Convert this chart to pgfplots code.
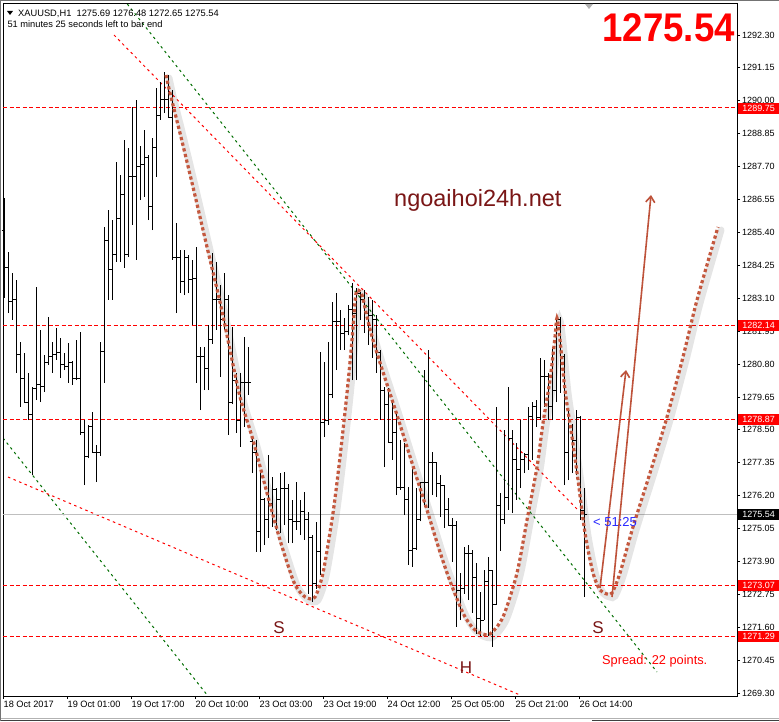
\documentclass[border=0pt]{standalone}
\usepackage{pgfplots}
\pgfplotsset{compat=1.18}
\usepackage{pgfplotstable}
\usepackage{fontspec}
\setmainfont{Liberation Sans}
\usetikzlibrary{arrows.meta}
\definecolor{dgreen}{RGB}{0,110,0}
\definecolor{curvecol}{RGB}{196,88,62}
\definecolor{arrowcol}{RGB}{190,82,58}
\definecolor{maroonT}{RGB}{122,22,22}
\definecolor{lblblue}{RGB}{40,40,255}
\definecolor{mtred}{RGB}{255,0,0}
\pgfdeclareplotmark{otick}{\pgfpathmoveto{\pgfqpoint{-2.5pt}{0pt}}\pgfpathlineto{\pgfqpoint{0pt}{0pt}}\pgfusepathqstroke}
\pgfdeclareplotmark{ctick}{\pgfpathmoveto{\pgfqpoint{0pt}{0pt}}\pgfpathlineto{\pgfqpoint{2.5pt}{0pt}}\pgfusepathqstroke}

\pgfplotstableread{
i H L O C
0 1286.60 1283.11 1285.48 1284.19
1 1284.71 1282.58 1284.19 1282.97
2 1283.98 1282.34 1282.97 1283.04
3 1283.74 1280.49 1283.04 1281.12
4 1281.57 1279.30 1281.12 1280.31
5 1281.19 1279.44 1280.31 1279.47
6 1280.49 1278.84 1279.47 1279.02
7 1280.00 1276.92 1279.02 1279.96
8 1283.49 1279.54 1279.96 1280.07
9 1281.99 1279.47 1280.07 1280.00
10 1281.12 1279.82 1280.00 1280.84
11 1282.44 1280.77 1280.84 1281.05
12 1281.57 1280.49 1281.05 1281.12
13 1282.06 1280.94 1281.12 1281.19
14 1281.71 1280.31 1281.19 1280.77
15 1281.19 1280.59 1280.77 1280.70
16 1281.54 1280.14 1280.70 1280.87
17 1280.90 1280.07 1280.87 1280.31
18 1281.64 1280.24 1280.31 1280.31
19 1281.92 1278.32 1280.31 1278.39
20 1278.84 1276.57 1278.39 1277.55
21 1278.67 1277.50 1277.55 1278.63
22 1279.12 1277.69 1278.63 1277.72
23 1277.97 1276.67 1277.72 1277.72
24 1281.57 1277.60 1277.72 1281.22
25 1285.59 1280.14 1281.22 1285.13
26 1286.18 1283.04 1285.13 1284.09
27 1285.83 1283.04 1284.09 1284.61
28 1287.86 1284.37 1284.61 1285.90
29 1287.41 1284.37 1285.90 1286.71
30 1288.63 1284.16 1286.71 1284.61
31 1288.35 1284.54 1284.61 1287.34
32 1289.78 1285.66 1287.34 1287.34
33 1290.03 1284.44 1287.34 1287.69
34 1288.42 1286.53 1287.69 1287.76
35 1288.98 1286.64 1287.76 1288.03
36 1288.11 1285.83 1288.03 1286.29
37 1288.70 1285.48 1286.29 1288.35
38 1290.45 1287.34 1288.35 1289.50
39 1290.66 1289.33 1289.50 1290.03
40 1291.01 1289.57 1290.03 1290.03
41 1290.90 1289.40 1290.03 1289.40
42 1290.38 1284.44 1289.40 1284.51
43 1285.73 1282.58 1284.51 1284.51
44 1284.78 1283.28 1284.51 1283.67
45 1284.78 1283.21 1283.67 1284.54
46 1284.60 1283.28 1284.54 1283.77
47 1284.44 1282.16 1283.77 1283.80
48 1284.89 1280.14 1283.80 1281.05
49 1281.40 1279.19 1281.05 1281.05
50 1281.40 1279.89 1281.05 1280.66
51 1282.16 1279.89 1280.66 1281.64
52 1284.68 1281.50 1281.64 1283.04
53 1284.37 1281.99 1283.04 1283.04
54 1283.56 1280.35 1283.04 1282.34
55 1283.98 1281.99 1282.34 1283.04
56 1283.20 1278.32 1283.04 1279.47
57 1282.09 1279.40 1279.47 1280.24
58 1280.49 1278.39 1280.24 1278.84
59 1280.49 1277.90 1278.84 1280.14
60 1281.74 1278.60 1280.14 1280.14
61 1281.40 1279.72 1280.14 1280.14
62 1278.21 1276.99 1278.10 1277.69
63 1278.14 1274.23 1277.69 1274.93
64 1277.10 1274.23 1274.93 1276.05
65 1276.10 1274.47 1276.05 1275.35
66 1277.62 1274.72 1275.35 1275.94
67 1276.85 1275.10 1275.94 1276.40
68 1276.46 1275.00 1276.40 1276.05
69 1276.99 1274.89 1276.05 1276.46
70 1277.03 1275.17 1276.46 1276.46
71 1276.60 1274.54 1276.46 1275.35
72 1276.05 1274.54 1275.35 1275.28
73 1276.67 1275.00 1275.28 1275.28
74 1276.05 1274.82 1275.28 1275.63
75 1276.32 1274.65 1275.63 1275.35
76 1275.63 1272.77 1275.35 1274.72
77 1274.82 1272.48 1274.72 1273.13
78 1275.28 1272.95 1273.13 1274.23
79 1281.22 1273.43 1274.23 1278.77
80 1280.87 1278.24 1278.77 1278.84
81 1281.57 1278.67 1278.84 1279.72
82 1282.97 1279.61 1279.72 1282.27
83 1283.28 1280.59 1282.27 1282.27
84 1282.69 1281.29 1282.27 1281.88
85 1282.41 1281.29 1281.88 1281.92
86 1282.86 1281.80 1281.92 1282.69
87 1283.63 1280.24 1282.69 1282.58
88 1283.46 1280.24 1282.58 1283.28
89 1283.32 1282.34 1283.28 1283.04
90 1283.39 1281.88 1283.04 1282.58
91 1283.14 1281.47 1282.58 1282.51
92 1283.04 1281.01 1282.51 1282.34
93 1282.50 1280.49 1282.34 1281.19
94 1281.30 1278.84 1281.19 1279.89
95 1280.00 1277.20 1279.89 1279.37
96 1279.96 1278.04 1279.37 1278.04
97 1279.54 1277.45 1278.04 1278.39
98 1279.12 1276.22 1278.39 1276.50
99 1278.14 1276.40 1276.50 1276.50
100 1278.04 1275.52 1276.50 1276.05
101 1276.50 1273.78 1276.05 1274.27
102 1277.20 1273.71 1274.27 1274.34
103 1276.46 1274.30 1274.34 1275.35
104 1276.67 1275.30 1275.35 1276.67
105 1280.59 1275.80 1276.67 1276.67
106 1281.29 1275.77 1276.67 1277.34
107 1277.72 1276.22 1277.34 1277.34
108 1277.38 1276.15 1277.34 1276.64
109 1276.92 1275.45 1276.64 1276.57
110 1276.57 1275.07 1276.57 1275.70
111 1276.12 1275.17 1275.70 1275.17
112 1275.42 1273.88 1275.17 1275.17
113 1275.30 1271.61 1275.17 1272.90
114 1273.50 1271.85 1272.90 1272.97
115 1274.40 1272.77 1272.97 1274.19
116 1274.47 1272.55 1274.19 1274.19
117 1274.30 1272.10 1274.19 1273.33
118 1273.85 1271.38 1273.33 1271.92
119 1272.83 1271.29 1271.92 1271.85
120 1273.60 1271.85 1271.85 1273.20
121 1274.06 1271.29 1273.20 1273.60
122 1273.60 1270.91 1273.60 1272.38
123 1279.30 1272.38 1272.38 1275.87
124 1276.29 1274.27 1275.87 1275.35
125 1278.50 1275.20 1275.35 1276.15
126 1280.00 1275.70 1276.15 1278.21
127 1278.50 1275.59 1278.21 1277.45
128 1278.04 1276.05 1277.45 1277.10
129 1278.84 1276.46 1277.10 1277.45
130 1277.69 1276.99 1277.45 1277.62
131 1279.30 1277.10 1277.62 1278.95
132 1279.47 1277.45 1278.95 1279.33
133 1279.54 1278.60 1279.33 1278.93
134 1281.01 1278.84 1278.93 1280.35
135 1280.94 1279.30 1280.35 1280.35
136 1280.50 1278.84 1280.35 1279.30
137 1281.40 1278.84 1279.30 1279.89
138 1282.51 1279.47 1279.89 1282.34
139 1282.45 1279.79 1282.34 1281.05
140 1281.15 1276.57 1281.05 1277.69
141 1279.19 1276.74 1277.69 1278.60
142 1278.70 1276.99 1278.60 1278.14
143 1279.19 1276.92 1278.14 1278.93
144 1279.00 1275.35 1278.93 1275.69
145 1276.48 1272.65 1275.69 1275.54
}\ohlc

% hand-drawn head-and-shoulders path, in screen pixels
\pgfplotstableread{
px py
166 75
170 93
180 133
193 187
207 247
220 302
230 350
240 397
253 440
267 493
280 540
293 580
300 592
307 598
315 597
323 573
333 513
340 457
347 393
352 340
355 302
357 290
362 295
367 317
373 340
383 372
397 415
413 466
427 510
440 552
450 581
463 613
472 627
480 633
490 634
503 617
517 573
527 520
537 467
543 423
550 380
555 337
557 318
560 340
565 390
572 437
578 480
585 533
593 573
600 590
607 594
612 593
620 573
633 527
650 473
667 417
683 357
697 300
718 227
}\hscurve

\pgfplotsset{pix/.style={scale only axis, width=734pt, height=692pt,
  at={(3pt,25pt)}, anchor=south west, xmin=3, xmax=737, ymin=4, ymax=696,
  y dir=reverse, hide axis},
  hline/.style={draw=mtred, color=mtred, line width=1.1pt, dash pattern=on 4pt off 2.5pt, mark=none}}
\tikzset{pbox/.style={text=white, font=\fontsize{9}{10}\selectfont, inner sep=0, minimum width=41pt, minimum height=11pt, anchor=west}}

\begin{document}
\begin{tikzpicture}
\path[use as bounding box, fill=white] (0,0) rectangle (779pt,721pt);

% trendlines (pixel overlay)
\begin{axis}[pix]
\addplot[mtred, line width=1pt, dash pattern=on 2.5pt off 3.5pt] coordinates {(114,35) (577,509)};
\addplot[dgreen, line width=1pt, dash pattern=on 2.5pt off 3.5pt] coordinates {(127.3,4) (657,672)};
\addplot[dgreen, line width=1pt, dash pattern=on 2.5pt off 3.5pt] coordinates {(3,438) (208,696)};
\addplot[mtred, line width=1pt, dash pattern=on 2.5pt off 3.5pt] coordinates {(8,477) (520,695)};
\end{axis}

% main price axis
\begin{axis}[
  scale only axis, width=734pt, height=692pt,
  at={(3pt,25pt)}, anchor=south west,
  xmin=-0.25, xmax=183.25, ymin=1269.196, ymax=1293.383,
  axis line style={black, line width=1pt},
  tick align=outside, major tick length=3pt,
  tick style={black, line width=0.8pt},
  xtick pos=bottom, ytick pos=right, yticklabel pos=right,
  scaled y ticks=false,
  xtick={-0.25,15.75,31.75,47.75,63.75,79.75,95.75,111.75,127.75,143.75},
  xticklabels={18 Oct 2017,19 Oct 01:00,19 Oct 17:00,20 Oct 10:00,23 Oct 03:00,23 Oct 19:00,24 Oct 12:00,25 Oct 05:00,25 Oct 21:00,26 Oct 14:00},
  ytick={1269.30,1270.45,1271.60,1272.75,1273.90,1275.05,1276.20,1277.35,1278.50,1279.65,1280.80,1281.95,1283.10,1284.25,1285.40,1286.55,1287.70,1288.85,1290.00,1291.15,1292.30},
  yticklabels={1269.30,1270.45,1271.60,1272.75,1273.90,1275.05,1276.20,1277.35,1278.50,1279.65,1280.80,1281.95,1283.10,1284.25,1285.40,1286.55,1287.70,1288.85,1290.00,1291.15,1292.30},
  xticklabel style={font=\fontsize{9.2}{10}\selectfont, anchor=north west, inner sep=0pt, xshift=0.5pt, yshift=-2pt},
  yticklabel style={font=\fontsize{9}{10}\selectfont, anchor=west, inner sep=0pt, xshift=2pt},
  clip=false,
]
\addplot[hline] coordinates {(-0.25,1289.75) (183.25,1289.75)};
\addplot[hline] coordinates {(-0.25,1282.14) (183.25,1282.14)};
\addplot[hline] coordinates {(-0.25,1278.87) (183.25,1278.87)};
\addplot[hline] coordinates {(-0.25,1273.07) (183.25,1273.07)};
\addplot[hline] coordinates {(-0.25,1271.29) (183.25,1271.29)};
\addplot[draw=black!25, line width=1pt, mark=none] coordinates {(-0.25,1275.54) (183.25,1275.54)};
% OHLC bars
\addplot[draw=none, mark=none, error bars/.cd, y dir=plus, y explicit, error mark=none,
  error bar style={draw=black, line width=1pt, solid}]
  table[x=i, y=L, y error expr=\thisrow{H}-\thisrow{L}] {\ohlc};
\addplot[only marks, mark=otick, mark options={draw=black, line width=1pt, solid}] table[x=i, y=O] {\ohlc};
\addplot[only marks, mark=ctick, mark options={draw=black, line width=1pt, solid}] table[x=i, y=C] {\ohlc};
\end{axis}

% annotations (pixel overlay)
\begin{axis}[pix, clip=false]
\addplot[smooth, tension=0.45, line width=7pt, black, opacity=0.10, line cap=round, xshift=3pt, yshift=-3pt] table[x=px, y=py] {\hscurve};
\addplot[smooth, tension=0.45, line width=3.2pt, curvecol, dash pattern=on 3.2pt off 2.6pt] table[x=px, y=py] {\hscurve};
\addplot[arrowcol, line width=1.6pt, -{Straight Barb[length=6pt, width=9pt]}] coordinates {(600,588) (626,370)};
\addplot[arrowcol, line width=1.6pt, -{Straight Barb[length=6pt, width=9pt]}] coordinates {(612,597) (651,195)};
\node[font=\fontsize{17}{17}\selectfont, text=maroonT, inner sep=0] at (axis cs:279,628) {S};
\node[font=\fontsize{17}{17}\selectfont, text=maroonT, inner sep=0] at (axis cs:466,668) {H};
\node[font=\fontsize{17}{17}\selectfont, text=maroonT, inner sep=0] at (axis cs:598,628) {S};
\node[font=\fontsize{23.5}{24}\selectfont, text=maroonT, inner sep=0, anchor=base west] at (axis cs:394,206) {ngoaihoi24h.net};
\node[font=\fontsize{13}{13}\selectfont, text=lblblue, inner sep=0, anchor=base west] at (axis cs:593,526.5) {< 51:25};
\node[font=\fontsize{12.8}{13}\selectfont, text=mtred, inner sep=0, anchor=base west] at (axis cs:602,664) {Spread: 22 points.};
% price label boxes
\node[pbox, fill=mtred] at (axis cs:738,108) {1289.75};
\node[pbox, fill=mtred] at (axis cs:738,325.7) {1282.14};
\node[pbox, fill=mtred] at (axis cs:738,419.2) {1278.87};
\node[pbox, fill=mtred] at (axis cs:738,585.2) {1273.07};
\node[pbox, fill=mtred] at (axis cs:738,636.1) {1271.29};
\node[pbox, fill=black] at (axis cs:738,514.5) {1275.54};
\end{axis}

% header texts and marks (screen coordinates)
\fill[black] (7pt,710pt) -- (13pt,710pt) -- (10pt,706pt) -- cycle;
\node[font=\fontsize{9.3}{10}\selectfont, anchor=base west, inner sep=0] at (18pt,704.3pt) {XAUUSD,H1\ \ 1275.69 1276.48 1272.65 1275.54};
\node[font=\fontsize{9.3}{10}\selectfont, anchor=base west, inner sep=0] at (7.3pt,693.7pt) {51 minutes 25 seconds left to bar end};
\node[font=\fontsize{40}{40}\selectfont\bfseries, text=mtred, anchor=base east, inner sep=0, xscale=0.915] at (735pt,679pt) {1275.54};
\fill[black!30] (585pt,717pt) -- (593pt,717pt) -- (589pt,712pt) -- cycle;
\draw[black!55, line width=1.5pt] (0,720.25pt) -- (779pt,720.25pt);
\draw[black!30, line width=1pt] (0,2.5pt) -- (779pt,2.5pt);
\draw[black!75, line width=1.5pt] (592pt,0.75pt) -- (779pt,0.75pt);
\draw[black!75, line width=1.5pt] (0pt,0.75pt) -- (510pt,0.75pt);
\draw[black!55, line width=1pt] (0.5pt,0) -- (0.5pt,721pt);
\end{tikzpicture}
\end{document}
